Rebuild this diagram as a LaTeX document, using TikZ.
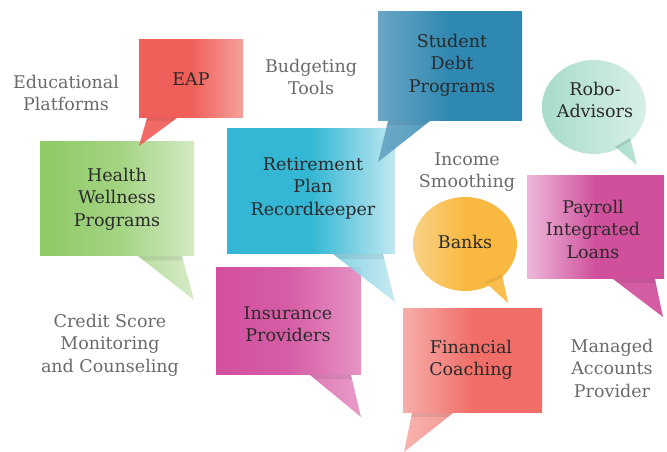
\documentclass[tikz,border=0pt]{standalone}
\usepackage{fontspec}
\setmainfont{DejaVu Serif}
\usetikzlibrary{calc}

\definecolor{darkText}{HTML}{2A2A2A}
\definecolor{greyText}{HTML}{6A6A6A}
\definecolor{eapRed}{HTML}{F05F59}
\definecolor{eapLight}{HTML}{F5A19C}
\definecolor{healthGreen}{HTML}{8ECA65}
\definecolor{healthMid}{HTML}{B3DB98}
\definecolor{healthLight}{HTML}{D3E9C3}
\definecolor{retireCyan}{HTML}{33B7D4}
\definecolor{retireMid}{HTML}{7ED0E2}
\definecolor{retireLight}{HTML}{C2E8F1}
\definecolor{debtLight}{HTML}{6AA6C5}
\definecolor{debtMid}{HTML}{4394BA}
\definecolor{debtBlue}{HTML}{2F88B1}
\definecolor{roboMint}{HTML}{A8DCC9}
\definecolor{roboLight}{HTML}{D8EFE6}
\definecolor{payLight}{HTML}{EDB8DA}
\definecolor{payMagenta}{HTML}{D0509C}
\definecolor{bankLight}{HTML}{F8D387}
\definecolor{bankOrange}{HTML}{F9B940}
\definecolor{insMagenta}{HTML}{D24F9E}
\definecolor{insMid}{HTML}{DC72B0}
\definecolor{insLight}{HTML}{E694C4}
\definecolor{finLight}{HTML}{F6AEA9}
\definecolor{finMid}{HTML}{F3918B}
\definecolor{finRed}{HTML}{F16E68}

\begin{document}
\begin{tikzpicture}[x=1pt,y=1pt,
    tail/.style={opacity=.93},
    band/.style={fill=black,opacity=.07},
    bubbletext/.style={align=center,text=darkText,font=\fontsize{17.5}{22.5}\selectfont},
    sidetext/.style={align=center,text=greyText,font=\fontsize{17.5}{22.5}\selectfont}]

    \useasboundingbox (0,0) rectangle (667,452);

    % Draw the bubbles
    \shade[left color=eapRed,right color=eapLight,middle color=eapRed] (139,334) rectangle (243,412);
    \shade[left color=healthGreen,right color=healthLight,middle color=healthGreen!70!healthLight] (40,196) rectangle (194,310);
    \shade[left color=retireCyan,right color=retireLight,middle color=retireCyan] (227,198) rectangle (395,323);
    \shade[left color=debtLight,right color=debtBlue,middle color=debtBlue] (378,331) rectangle (522,440);
    \shade[left color=payLight,right color=payMagenta,middle color=payMagenta] (527,173) rectangle (664,276);
    \shade[left color=insMagenta,right color=insLight,middle color=insMagenta!80!insLight] (216,77) rectangle (361,184);
    \shade[left color=finLight,right color=finRed,middle color=finRed] (403,39) rectangle (542,143);
    \shade[left color=roboMint,right color=roboLight] (594,345) ellipse [x radius=52,y radius=47];
    \shade[left color=bankLight,right color=bankOrange,middle color=bankOrange] (465,208) ellipse [x radius=52,y radius=47];

    % Draw the tails
    \shade[tail,left color=eapRed,right color=eapRed] (147,334) coordinate (eapA) -- (177,334) coordinate (eapB) -- (139,306) coordinate (eapT) -- cycle;
    \shade[tail,left color=healthMid,right color=healthLight] (138,196) coordinate (healthA) -- (182,196) coordinate (healthB) -- (194,152) coordinate (healthT) -- cycle;
    \shade[tail,left color=retireMid,right color=retireLight] (333,198) coordinate (retireA) -- (383,198) coordinate (retireB) -- (395,150) coordinate (retireT) -- cycle;
    \shade[tail,left color=debtLight,right color=debtMid] (388,331) coordinate (debtA) -- (430,331) coordinate (debtB) -- (378,290) coordinate (debtT) -- cycle;
    \shade[tail,left color=payMagenta,right color=payMagenta] (613,173) coordinate (payA) -- (655,173) coordinate (payB) -- (663,135) coordinate (payT) -- cycle;
    \shade[tail,left color=insMid,right color=insLight] (310,77) coordinate (insA) -- (351,77) coordinate (insB) -- (361,35) coordinate (insT) -- cycle;
    \shade[tail,left color=finLight,right color=finMid] (412,39) coordinate (finA) -- (453,39) coordinate (finB) -- (404,0) coordinate (finT) -- cycle;
    \shade[tail,left color=roboMint,right color=roboMint!80!roboLight] (615,305) coordinate (roboA) -- (630,314) coordinate (roboB) -- (637,287) coordinate (roboT) -- cycle;
    \shade[tail,left color=bankOrange,right color=bankOrange] (485,170) coordinate (bankA) -- (502,178) coordinate (bankB) -- (508,149) coordinate (bankT) -- cycle;

    % Shadow at the root of each tail
    \foreach \t in {eap,health,retire,debt,pay,ins,fin,robo,bank}
        \fill[band] (\t A) -- (\t B) -- ($(\t B)!.1!(\t T)$) -- ($(\t A)!.1!(\t T)$) -- cycle;

    % Bubble labels
    \node[bubbletext] (eap) at (191,373) {EAP};
    \node[bubbletext] (health) at (117,253) {Health\\Wellness\\Programs};
    \node[bubbletext] (retire) at (313,264) {Retirement\\Plan\\Recordkeeper};
    \node[bubbletext] (debt) at (452,387) {Student\\Debt\\Programs};
    \node[bubbletext] (robo) at (595,352) {Robo-\\Advisors};
    \node[bubbletext] (pay) at (593,223) {Payroll\\Integrated\\Loans};
    \node[bubbletext] (bank) at (465,210) {Banks};
    \node[bubbletext] (ins) at (288,128) {Insurance\\Providers};
    \node[bubbletext] (fin) at (471,92) {Financial\\Coaching};

    % Free labels
    \node[sidetext] (edu) at (66,359) {Educational\\Platforms};
    \node[sidetext] (budget) at (311,375) {Budgeting\\Tools};
    \node[sidetext] (income) at (467,280) {Income\\Smoothing};
    \node[sidetext] (credit) at (110,107) {Credit Score\\Monitoring\\and Counseling};
    \node[sidetext] (managed) at (612,84) {Managed\\Accounts\\Provider};
\end{tikzpicture}
\end{document}
